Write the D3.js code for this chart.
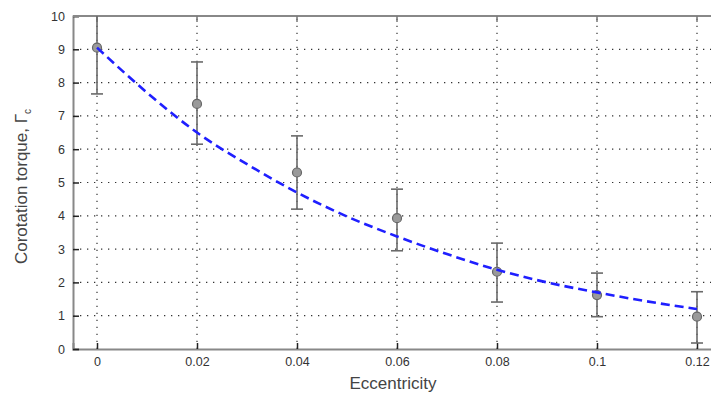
<!DOCTYPE html>
<html>
<head>
<meta charset="utf-8">
<script src="https://cdn.jsdelivr.net/npm/d3@7"></script>
<style>
  body { margin: 0; background: #fff; }
  svg { display: block; font-family: "Liberation Sans", Arial, sans-serif; }
</style>
</head>
<body>
<div id="chart"></div>
<script>
// measured points with error bars
const ecc = [0, 0.02, 0.04, 0.06, 0.08, 0.1, 0.12];
const torque = [9.05, 7.36, 5.3, 3.93, 2.32, 1.62, 0.97];
const errLow = [7.66, 6.15, 4.2, 2.95, 1.41, 0.97, 0.18];
const errHigh = [10.4, 8.62, 6.4, 4.8, 3.18, 2.28, 1.72];

// fitted curve (blue dashed)
const fitX = [0, 0.01, 0.02, 0.03, 0.04, 0.05, 0.06, 0.07, 0.08, 0.09, 0.1, 0.11, 0.12];
const fitY = [9.05, 7.7, 6.5, 5.55, 4.7, 3.98, 3.38, 2.85, 2.38, 2.0, 1.7, 1.43, 1.2];

const xTicks = [0, 0.02, 0.04, 0.06, 0.08, 0.1, 0.12];
const xTickLabels = ["0", "0.02", "0.04", "0.06", "0.08", "0.1", "0.12"];
const yTicks = [0, 1, 2, 3, 4, 5, 6, 7, 8, 9, 10];

const W = 711, H = 399;
const margin = {top: 16, left: 73, bottom: 50};
const plotRight = 722;

const svg = d3.select("#chart").append("svg")
  .attr("width", W)
  .attr("height", H);

const x = d3.scaleLinear().domain([-0.0048, 0.125]).range([margin.left, plotRight]);
const y = d3.scaleLinear().domain([0, 10]).range([H - margin.bottom, margin.top]);

svg.append("defs").append("clipPath").attr("id", "plotclip")
  .append("rect")
  .attr("x", margin.left).attr("y", margin.top)
  .attr("width", plotRight - margin.left)
  .attr("height", y(0) - y(10));

// grid
const grid = svg.append("g").attr("stroke", "#333").attr("stroke-width", 1.2)
  .attr("stroke-dasharray", "1.3,5.7");
grid.selectAll("line.h").data(yTicks.slice(1, -1)).enter().append("line")
  .attr("x1", margin.left).attr("x2", plotRight)
  .attr("y1", d => y(d)).attr("y2", d => y(d));
grid.selectAll("line.v").data(xTicks).enter().append("line")
  .attr("x1", d => x(d)).attr("x2", d => x(d))
  .attr("y1", y(0)).attr("y2", y(10));

// axes
const xAxis = svg.append("g")
  .attr("transform", `translate(0,${y(0)})`)
  .call(d3.axisBottom(x).tickValues(xTicks).tickSize(-6).tickPadding(8)
    .tickFormat((d, i) => xTickLabels[i]));
const yAxis = svg.append("g")
  .attr("transform", `translate(${margin.left},0)`)
  .call(d3.axisLeft(y).tickValues(yTicks).tickSize(-6).tickPadding(8));

[xAxis, yAxis].forEach(a => {
  a.select(".domain").attr("stroke", "#888").attr("stroke-width", 2);
  a.selectAll(".tick line").attr("stroke", "#222").attr("stroke-width", 1.5);
  a.selectAll(".tick text").attr("fill", "#333").attr("font-size", 12.5)
    .attr("font-family", "\"Liberation Sans\", Arial, sans-serif");
});

// top frame
svg.append("line")
  .attr("x1", margin.left).attr("x2", W)
  .attr("y1", y(10)).attr("y2", y(10))
  .attr("stroke", "#888").attr("stroke-width", 2);
svg.append("g").selectAll("line").data(xTicks).enter().append("line")
  .attr("x1", d => x(d)).attr("x2", d => x(d))
  .attr("y1", y(10)).attr("y2", y(10) + 6)
  .attr("stroke", "#777").attr("stroke-width", 1.5);

const plot = svg.append("g").attr("clip-path", "url(#plotclip)");

// error bars
const eb = plot.append("g").attr("stroke", "#6a6a6a").attr("stroke-width", 1.6);
ecc.forEach((e, i) => {
  eb.append("line").attr("x1", x(e)).attr("x2", x(e))
    .attr("y1", y(errLow[i])).attr("y2", y(errHigh[i]));
  [errLow[i], errHigh[i]].forEach(v => {
    eb.append("line").attr("x1", x(e) - 6).attr("x2", x(e) + 6)
      .attr("y1", y(v)).attr("y2", y(v));
  });
});

// points
plot.append("g").selectAll("circle").data(ecc).enter().append("circle")
  .attr("cx", d => x(d))
  .attr("cy", (d, i) => y(torque[i]))
  .attr("r", 4.5)
  .attr("fill", "#9a9a9a")
  .attr("stroke", "#666")
  .attr("stroke-width", 1.2);

// fitted curve
const line = d3.line()
  .x((d, i) => x(fitX[i]))
  .y(d => y(d))
  .curve(d3.curveMonotoneX);
plot.append("path")
  .datum(fitY)
  .attr("d", line)
  .attr("fill", "none")
  .attr("stroke", "#1f1fff")
  .attr("stroke-width", 2.6)
  .attr("stroke-dasharray", "9,5");

// axis titles
svg.append("text")
  .attr("x", 393).attr("y", 389)
  .attr("text-anchor", "middle")
  .attr("font-size", 17)
  .attr("fill", "#444")
  .text("Eccentricity");

const yl = svg.append("text")
  .attr("transform", `translate(27,${(y(0) + y(10)) / 2 + 4}) rotate(-90)`)
  .attr("text-anchor", "middle")
  .attr("font-size", 17)
  .attr("fill", "#444");
yl.append("tspan").text("Corotation torque, Γ");
yl.append("tspan").attr("font-size", 10).attr("dy", 4).text("c");
</script>
</body>
</html>
